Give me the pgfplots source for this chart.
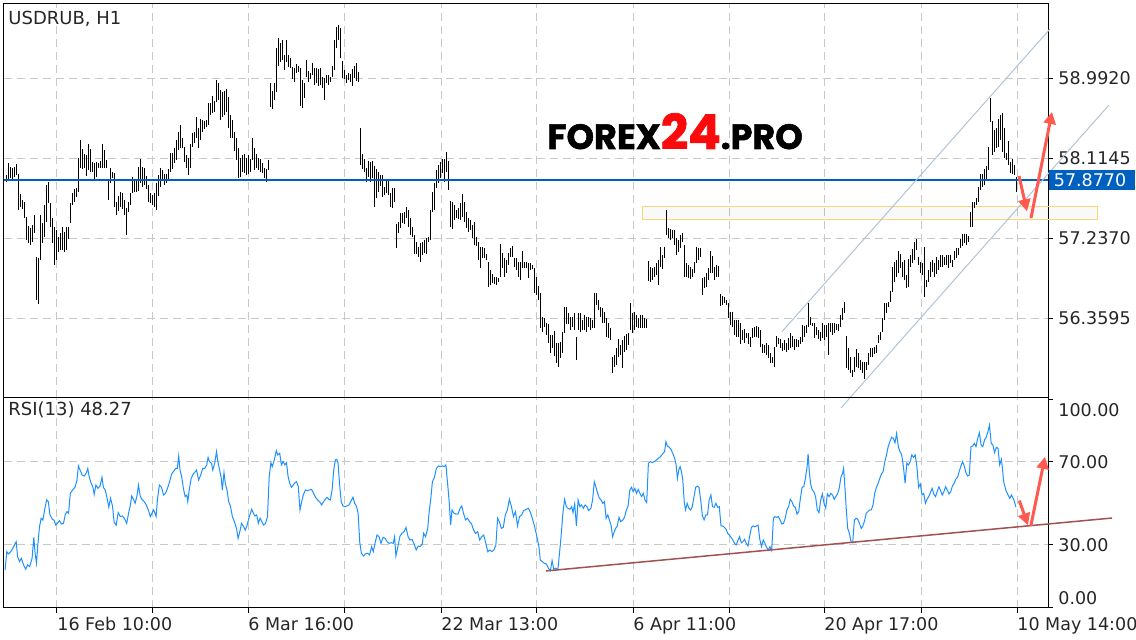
\documentclass[border=0pt]{standalone}
\usepackage{fontspec}
\setmainfont{DejaVu Sans}
\newfontfamily\wmfont{Poppins}[BoldFeatures={FakeBold=1.6}]
\usepackage{pgfplots}
\pgfplotsset{compat=1.18}
\usepackage{pgfplotstable}
\usetikzlibrary{arrows.meta}

\definecolor{mtblue}{RGB}{0,96,192}
\definecolor{rsiblue}{RGB}{30,144,255}
\definecolor{chan}{RGB}{176,196,214}
\definecolor{trend}{RGB}{160,82,80}
\definecolor{arrowred}{RGB}{255,90,80}
\definecolor{zone}{RGB}{248,214,122}
\definecolor{gridc}{RGB}{200,200,200}
\definecolor{wmred}{RGB}{250,10,10}

% H1 bars: x position, high, low
\pgfplotstableread{
x h l
6 57.93 57.85
8 58.06 57.89
10 58.02 57.90
12 58.01 57.88
14 58.02 57.91
16 58.05 57.93
18 57.94 57.54
20 57.72 57.58
22 57.65 57.56
24 57.63 57.46
26 57.47 57.22
28 57.37 57.18
30 57.35 57.16
32 57.38 57.19
34 57.49 57.29
36 57.03 56.56
38 57.02 56.51
40 57.49 57.00
42 57.40 57.18
44 57.60 57.25
46 57.82 57.41
48 57.85 57.62
50 57.62 57.36
52 57.46 57.18
54 57.36 56.94
56 57.33 57.00
58 57.25 57.08
60 57.29 57.11
62 57.36 57.11
64 57.30 57.08
66 57.36 57.11
68 57.36 57.23
70 57.62 57.40
72 57.73 57.60
74 57.78 57.63
76 57.79 57.69
78 58.12 57.74
80 58.31 58.01
82 58.21 57.99
84 58.16 58.01
86 58.15 57.92
88 58.27 57.98
90 58.21 57.96
92 58.07 57.96
94 58.06 57.88
96 58.07 57.91
98 58.06 58.01
100 58.08 58.01
102 58.27 58.01
104 58.20 58.01
106 58.09 58.01
108 57.86 57.65
110 58.00 57.84
112 57.96 57.90
114 57.95 57.58
116 57.63 57.49
118 57.70 57.53
120 57.74 57.58
122 57.73 57.56
124 57.65 57.49
126 57.57 57.27
128 57.63 57.52
130 57.73 57.60
132 57.91 57.73
134 57.86 57.74
136 57.88 57.74
138 58.02 57.75
140 58.11 57.84
142 58.02 57.80
144 58.01 57.82
146 57.92 57.78
148 57.82 57.63
150 57.73 57.62
152 57.71 57.60
154 57.73 57.58
156 57.84 57.54
158 57.93 57.70
160 58.00 57.80
162 57.98 57.88
164 57.94 57.82
166 57.94 57.84
168 57.99 57.88
170 58.17 57.96
172 58.17 58.00
174 58.23 58.06
176 58.31 58.09
178 58.40 58.20
180 58.48 58.23
182 58.33 58.22
184 58.23 58.07
186 58.15 58.01
188 58.11 57.93
190 58.27 58.01
192 58.39 58.23
194 58.40 58.28
196 58.56 58.34
198 58.44 58.23
200 58.54 58.31
202 58.53 58.40
204 58.52 58.43
206 58.53 58.45
208 58.72 58.48
210 58.72 58.59
212 58.80 58.61
214 58.74 58.62
216 58.97 58.73
218 58.94 58.75
220 58.86 58.53
222 58.84 58.56
224 58.85 58.59
226 58.87 58.62
228 58.78 58.44
230 58.59 58.34
232 58.53 58.33
234 58.40 58.19
236 58.33 58.09
238 58.23 57.90
240 58.11 57.91
242 58.15 57.96
244 58.16 57.95
246 58.11 57.93
248 58.15 57.94
250 58.10 57.96
252 58.33 58.09
254 58.23 57.98
256 58.16 58.00
258 58.12 57.98
260 58.11 57.96
262 58.06 57.95
264 58.00 57.90
266 58.00 57.85
268 58.09 57.98
270 58.94 58.67
272 58.85 58.65
274 58.94 58.75
276 59.32 58.84
278 59.43 59.13
280 59.38 59.17
282 59.41 59.19
284 59.24 59.08
286 59.41 59.17
288 59.24 59.11
290 59.21 59.10
292 59.11 58.98
294 59.10 58.95
296 59.15 59.05
298 59.13 59.06
300 59.10 58.68
302 58.97 58.66
304 58.94 58.77
306 59.19 59.00
308 59.07 58.95
310 59.05 58.98
312 59.16 59.03
314 59.10 58.92
316 59.10 58.94
318 59.09 58.90
320 59.10 58.92
322 59.00 58.88
324 58.99 58.75
326 59.03 58.94
328 59.03 58.92
330 59.00 58.95
332 59.13 59.00
334 59.41 59.08
336 59.55 59.32
338 59.57 59.41
340 59.54 59.21
342 59.18 58.99
344 59.08 58.98
346 59.03 58.94
348 59.05 58.97
350 59.04 58.95
352 59.09 58.90
354 59.13 58.99
356 59.16 58.96
358 59.06 58.95
360 58.45 58.04
362 58.16 57.99
364 58.10 57.96
366 58.01 57.85
368 58.08 57.91
370 58.07 57.85
372 58.08 57.90
374 58.03 57.58
376 57.99 57.68
378 57.96 57.74
380 57.93 57.81
382 57.93 57.69
384 57.80 57.71
386 57.88 57.73
388 57.88 57.71
390 57.73 57.58
392 57.79 57.57
394 57.79 57.63
396 57.39 57.13
398 57.41 57.29
400 57.51 57.35
402 57.51 57.40
404 57.52 57.39
406 57.58 57.46
408 57.54 57.36
410 57.46 57.27
412 57.36 57.25
414 57.27 57.06
416 57.19 57.06
418 57.14 57.03
420 57.18 56.97
422 57.19 57.05
424 57.22 57.07
426 57.24 57.06
428 57.25 57.19
430 57.54 57.22
432 57.74 57.52
434 57.84 57.54
436 57.98 57.79
438 58.04 57.84
440 58.07 57.90
442 58.10 57.95
444 58.11 57.85
446 58.18 57.96
448 58.08 57.76
450 57.64 57.36
452 57.63 57.34
454 57.60 57.44
456 57.54 57.46
458 57.57 57.45
460 57.62 57.44
462 57.72 57.47
464 57.63 57.41
466 57.52 57.35
468 57.46 57.30
470 57.44 57.33
472 57.38 57.24
474 57.41 57.16
476 57.25 57.15
478 57.19 57.00
480 57.14 56.91
482 57.14 57.02
484 57.13 57.02
486 57.06 57.00
488 56.98 56.70
490 56.89 56.72
492 56.84 56.74
494 56.81 56.73
496 56.81 56.72
498 56.80 56.75
500 57.17 56.81
502 57.07 56.91
504 57.02 56.81
506 57.00 56.85
508 57.07 56.94
510 57.13 57.03
512 57.15 57.03
514 57.02 56.92
516 57.02 56.89
518 56.97 56.81
520 56.97 56.78
522 57.09 56.91
524 56.98 56.91
526 56.97 56.91
528 56.96 56.80
530 56.96 56.89
532 56.94 56.90
534 56.91 56.63
536 56.81 56.61
538 56.71 56.56
540 56.63 56.25
542 56.37 56.21
544 56.36 56.26
546 56.30 56.17
548 56.30 56.09
550 56.17 55.98
552 56.17 56.03
554 56.22 55.94
556 56.09 55.87
558 56.09 55.82
560 56.10 55.92
562 56.21 55.98
564 56.48 56.20
566 56.48 56.30
568 56.41 56.30
570 56.37 56.23
572 56.37 56.26
574 56.41 56.23
576 56.15 55.90
578 56.41 56.23
580 56.41 56.21
582 56.34 56.23
584 56.39 56.23
586 56.37 56.21
588 56.37 56.26
590 56.36 56.23
592 56.34 56.25
594 56.64 56.25
596 56.64 56.50
598 56.56 56.45
600 56.48 56.37
602 56.47 56.31
604 56.42 56.30
606 56.36 56.15
608 56.30 56.14
610 56.25 56.12
612 55.93 55.76
614 55.95 55.82
616 56.03 55.84
618 56.13 55.93
620 56.06 55.95
622 56.12 55.81
624 56.16 55.99
626 56.18 56.01
628 56.20 56.06
630 56.52 56.23
632 56.41 56.20
634 56.42 56.23
636 56.39 56.26
638 56.36 56.25
640 56.39 56.25
642 56.39 56.25
644 56.36 56.25
646 56.35 56.25
648 56.98 56.76
650 56.92 56.76
652 56.91 56.78
654 56.92 56.81
656 56.96 56.83
658 57.00 56.72
660 57.14 56.92
662 57.05 56.90
664 57.14 57.02
666 57.54 57.27
668 57.35 57.24
670 57.34 57.22
672 57.33 57.24
674 57.33 57.16
676 57.24 57.05
678 57.22 57.08
680 57.27 57.13
682 57.29 57.19
684 57.16 56.81
686 56.96 56.81
688 56.94 56.80
690 56.92 56.79
692 56.90 56.81
694 56.97 56.85
696 57.14 56.96
698 57.13 57.00
700 57.13 57.03
702 56.80 56.61
704 56.81 56.69
706 56.85 56.70
708 56.91 56.78
710 57.09 56.85
712 57.04 56.85
714 56.92 56.78
716 56.94 56.81
718 56.93 56.81
720 56.62 56.49
722 56.60 56.50
724 56.59 56.52
726 56.56 56.50
728 56.53 56.36
730 56.43 56.28
732 56.42 56.26
734 56.34 56.17
736 56.34 56.15
738 56.34 56.15
740 56.31 56.07
742 56.23 56.12
744 56.24 56.09
746 56.20 56.14
748 56.20 56.07
750 56.15 56.04
752 56.25 56.14
754 56.26 56.15
756 56.27 56.15
758 56.26 56.14
760 56.23 56.04
762 56.08 55.98
764 56.06 55.98
766 56.08 55.95
768 56.06 55.92
770 55.98 55.87
772 55.93 55.87
774 56.04 55.82
776 56.16 56.04
778 56.14 56.07
780 56.13 56.03
782 56.09 56.00
784 56.12 56.01
786 56.09 55.99
788 56.14 56.01
790 56.19 56.03
792 56.16 56.04
794 56.13 56.01
796 56.13 56.04
798 56.12 56.04
800 56.15 56.07
802 56.28 56.10
804 56.27 56.15
806 56.28 56.20
808 56.52 56.26
810 56.37 56.28
812 56.31 56.27
814 56.30 56.14
816 56.26 56.17
818 56.23 56.13
820 56.21 56.11
822 56.30 56.14
824 56.28 56.12
826 56.28 56.15
828 56.30 55.95
830 56.30 56.21
832 56.30 56.17
834 56.30 56.20
836 56.30 56.23
838 56.30 56.22
840 56.39 56.26
842 56.47 56.34
844 56.53 56.41
846 56.16 55.81
848 56.03 55.79
850 55.93 55.76
852 55.79 55.71
854 55.93 55.77
856 56.02 55.82
858 55.98 55.81
860 55.90 55.79
862 55.88 55.76
864 55.88 55.69
866 55.88 55.79
868 55.98 55.84
870 56.03 55.93
872 56.03 55.93
874 56.04 55.97
876 56.06 55.98
878 56.17 56.09
880 56.21 56.12
882 56.36 56.21
884 56.52 56.34
886 56.53 56.42
888 56.53 56.48
890 56.66 56.53
892 56.92 56.64
894 56.97 56.75
896 57.00 56.81
898 57.09 56.85
900 57.06 56.91
902 56.97 56.81
904 57.00 56.78
906 56.83 56.69
908 57.01 56.70
910 57.05 56.92
912 57.12 56.96
914 57.19 57.00
916 57.23 57.11
918 57.03 56.94
920 56.97 56.85
922 56.96 56.83
924 57.14 56.59
926 56.78 56.70
928 56.89 56.75
930 56.97 56.81
932 57.00 56.87
934 56.96 56.81
936 57.03 56.84
938 57.00 56.89
940 57.05 56.92
942 57.05 56.92
944 57.03 56.94
946 57.05 56.94
948 57.05 56.91
950 57.05 56.96
952 57.00 56.92
954 57.09 57.00
956 57.13 57.02
958 57.13 57.05
960 57.23 57.13
962 57.28 57.15
964 57.28 57.18
966 57.28 57.16
968 57.26 57.19
970 57.52 57.36
972 57.63 57.36
974 57.63 57.57
976 57.68 57.60
978 57.80 57.63
980 57.94 57.77
982 57.94 57.80
984 57.99 57.82
986 58.03 57.86
988 58.24 57.98
990 58.77 58.51
992 58.52 58.15
994 58.42 58.18
996 58.44 58.22
998 58.54 58.23
1000 58.59 58.31
1002 58.61 58.18
1004 58.44 58.11
1006 58.17 58.09
1008 58.30 58.04
1010 58.07 57.95
1012 58.10 57.94
1014 58.04 57.93
1016 57.91 57.74
}\bars

% RSI(13)
\pgfplotstableread{
x r
5.1 18.0
6.8 26.8
8.4 25.7
10.8 26.8
12.8 28.4
15.2 30.8
16.2 31.6
17.6 24.4
19.6 22.0
21.3 23.6
23.6 20.4
25.7 18.3
27.7 20.4
29.7 19.6
32.1 23.6
33.8 33.7
35.1 26.0
36.5 21.2
37.8 30.0
39.5 38.8
41.2 42.9
42.9 42.0
44.9 47.7
46.6 51.7
48.3 50.9
50.0 44.5
52.4 42.4
54.0 42.0
55.7 39.6
57.4 40.4
59.5 41.7
61.5 40.1
63.5 40.4
65.2 44.5
66.9 46.1
68.6 45.3
70.3 54.9
72.6 56.5
75.0 57.8
77.0 61.3
78.4 68.1
80.4 65.8
82.1 63.7
84.5 63.3
86.5 64.9
87.8 66.9
89.2 62.9
91.2 59.7
92.9 57.8
94.2 54.4
95.9 58.9
98.0 57.3
100.0 58.4
102.0 62.6
103.4 57.8
105.4 56.2
107.4 51.7
108.8 48.2
110.5 52.5
112.5 48.8
114.2 40.8
116.2 39.6
118.2 45.6
120.3 43.7
122.3 44.0
124.3 42.9
126.7 40.4
128.4 44.9
130.4 49.3
131.7 53.6
133.8 51.7
135.1 50.1
136.8 53.3
138.5 58.9
140.2 53.6
141.9 52.0
144.2 50.9
146.3 49.3
148.3 46.9
150.3 43.7
152.0 45.3
153.7 46.9
156.1 43.7
157.4 51.7
159.4 58.9
161.5 57.8
163.5 54.1
165.5 54.9
167.5 57.3
169.6 60.5
171.6 64.2
174.0 65.8
175.7 66.9
177.3 66.9
178.7 72.9
180.0 66.1
181.7 62.9
183.4 57.3
185.1 53.3
186.8 54.1
187.8 50.9
189.2 56.5
191.2 62.1
193.2 64.2
195.2 65.3
196.6 66.1
198.6 61.3
200.7 63.7
202.7 66.9
204.7 66.9
206.7 68.6
208.1 72.2
209.4 70.2
211.5 69.4
212.8 66.1
214.8 69.7
216.5 75.0
217.9 70.2
219.6 66.1
221.3 62.1
222.3 56.5
224.0 64.9
225.3 59.7
227.0 56.5
228.7 50.9
230.4 48.8
232.4 43.7
234.4 41.3
236.5 38.0
238.1 33.2
239.8 36.4
241.5 40.4
243.2 39.2
245.2 37.2
246.9 39.2
249.3 43.7
251.7 47.2
253.4 45.3
255.0 44.0
256.7 44.5
258.4 40.4
260.1 42.9
261.8 41.3
263.5 39.6
265.5 40.4
267.5 43.7
269.2 62.9
270.9 69.7
272.3 67.8
274.3 71.0
276.3 75.5
277.7 73.4
279.7 74.2
281.4 68.6
283.1 70.2
284.8 68.6
286.5 69.7
288.1 62.9
289.8 59.7
291.5 57.8
293.2 58.9
294.9 60.0
296.6 60.5
298.3 58.1
300.0 46.9
301.7 50.9
303.3 54.1
305.4 56.5
307.4 56.2
309.4 56.5
311.5 56.8
313.5 54.9
315.5 53.0
317.5 51.7
319.6 50.9
321.6 49.3
323.6 50.9
325.3 52.0
327.0 53.0
329.0 52.0
330.4 51.7
332.1 56.5
333.7 66.1
335.4 71.0
336.8 71.3
338.1 69.4
339.5 59.7
341.2 50.9
342.9 48.8
344.6 48.5
346.9 48.8
348.9 49.3
351.3 51.4
353.0 53.0
354.7 50.1
356.4 48.8
358.1 45.3
359.8 31.1
361.4 26.0
363.5 24.7
365.5 25.7
367.5 26.0
369.6 25.2
371.6 29.2
373.3 26.8
375.0 30.8
377.0 34.8
379.0 34.0
381.0 30.8
383.1 33.7
385.1 33.2
387.1 31.6
389.1 30.8
391.2 31.1
393.2 30.8
394.6 34.0
395.9 24.7
397.9 29.2
400.0 34.3
402.0 35.6
404.0 36.4
406.0 38.5
408.1 34.0
410.1 32.4
412.1 32.7
414.1 30.5
416.2 27.6
418.2 29.5
420.2 29.2
422.3 30.5
423.6 35.6
425.6 34.0
427.7 38.0
429.0 45.3
431.0 53.3
432.4 60.5
434.4 62.6
436.4 66.9
438.5 68.1
440.5 67.8
442.5 68.1
444.5 67.8
445.9 68.6
447.9 58.1
449.3 50.1
450.6 39.6
452.0 46.9
454.0 45.3
456.0 44.9
458.0 44.9
460.1 47.7
461.8 48.8
463.5 45.3
465.5 42.1
467.5 42.9
469.5 41.3
471.6 40.1
473.6 37.2
475.6 35.6
477.7 36.4
479.7 32.4
481.7 34.0
483.7 34.8
485.8 30.8
487.8 26.8
489.8 27.6
491.8 26.8
493.9 27.6
495.9 30.0
497.6 42.9
499.3 41.3
501.3 38.0
503.3 38.5
505.3 44.5
507.4 46.9
509.4 52.0
511.4 48.5
513.5 43.7
515.5 46.1
517.5 39.2
519.5 43.7
521.7 44.5
523.4 46.4
526.1 47.2
528.4 47.7
530.1 46.1
531.8 43.7
534.2 39.6
536.2 35.6
537.6 32.4
538.9 29.2
540.3 22.8
542.3 22.0
544.3 21.2
546.3 20.9
548.4 18.8
550.4 17.6
552.1 22.5
553.8 18.3
555.8 18.8
557.8 18.0
559.5 26.0
561.2 34.8
562.9 45.3
564.6 52.0
566.3 48.5
568.0 47.7
570.0 47.2
571.7 48.5
573.0 45.6
574.7 49.8
576.4 39.2
578.1 51.7
579.8 48.5
581.5 49.3
583.5 47.7
585.2 49.3
586.9 48.5
588.6 46.6
590.9 47.7
592.6 51.7
594.3 60.5
596.0 57.8
597.7 54.9
599.4 52.5
601.1 51.7
602.8 50.1
604.5 50.9
606.1 42.9
607.8 44.5
609.9 41.3
611.2 39.2
612.6 34.0
613.9 35.9
615.6 38.0
617.3 39.2
619.0 43.3
620.7 41.3
623.0 42.1
624.7 43.7
626.4 46.9
628.1 48.8
629.8 56.5
631.5 57.8
633.2 55.7
634.9 57.3
636.5 54.9
638.2 56.8
639.9 54.9
641.6 53.3
643.3 54.9
645.0 51.7
646.7 50.4
648.4 69.4
650.4 70.2
652.4 69.7
654.4 70.2
656.5 71.0
658.5 71.8
660.5 72.6
662.6 73.9
664.6 75.0
665.9 79.8
667.3 77.7
669.3 77.1
671.3 75.8
673.4 73.4
674.7 71.8
676.1 68.6
677.4 62.1
678.8 66.1
680.1 67.8
681.5 65.3
682.8 61.3
684.2 50.9
685.5 46.9
687.2 50.1
688.9 47.7
690.6 46.9
692.3 48.5
694.0 53.3
695.7 57.8
697.3 58.4
699.0 57.8
700.7 51.7
702.4 44.0
704.1 42.1
705.8 44.5
707.5 44.5
709.2 51.7
710.9 54.1
712.5 48.5
714.2 48.2
715.9 50.1
717.6 48.2
719.3 48.5
721.0 39.2
722.7 39.2
724.4 38.5
726.1 37.6
727.7 35.6
729.4 34.8
731.1 33.7
732.8 32.4
734.5 30.8
736.2 30.0
737.9 32.1
739.6 34.0
741.3 31.1
742.9 31.6
744.6 32.7
746.3 30.8
748.0 29.5
749.7 34.3
751.4 38.5
753.1 39.2
754.8 38.8
756.5 39.2
758.1 39.6
759.8 32.7
761.5 29.2
763.2 32.4
764.9 30.8
766.6 28.9
768.3 27.6
770.0 29.2
771.7 27.3
773.4 42.9
775.0 43.7
776.7 43.3
778.4 43.7
780.1 42.1
781.8 40.1
783.5 40.4
785.2 42.9
786.9 46.9
788.6 48.5
790.2 52.0
791.9 50.9
793.6 48.8
795.3 48.2
797.0 44.9
798.7 46.1
800.4 52.5
802.1 57.8
803.8 58.1
805.4 62.1
807.1 67.8
808.1 73.9
809.2 66.1
810.5 59.7
812.2 56.5
813.9 55.7
815.6 53.3
817.3 46.9
819.0 45.6
820.6 51.4
822.3 54.6
824.0 50.1
825.7 47.7
827.4 54.6
829.1 53.3
830.8 54.9
832.5 54.1
834.2 52.0
835.8 53.3
837.5 54.6
839.2 57.3
840.9 62.6
842.6 64.5
843.6 66.9
845.0 57.3
846.3 46.9
847.7 38.0
849.4 35.6
851.0 31.6
852.7 31.1
854.4 42.1
856.1 42.9
857.8 42.4
859.5 40.4
861.2 38.0
862.9 39.2
864.6 41.7
866.2 45.3
867.9 46.1
869.6 46.9
871.3 46.9
873.0 49.3
874.7 54.9
876.4 57.8
878.1 59.7
879.8 62.1
881.4 64.2
883.1 65.3
884.8 70.2
886.5 73.4
888.2 77.4
889.9 79.8
891.6 81.9
893.3 81.4
895.0 79.3
896.6 83.8
898.3 77.4
900.0 75.0
901.7 73.4
903.4 67.8
905.1 59.7
906.8 69.4
908.5 68.6
910.2 70.2
911.8 73.4
913.5 72.2
915.2 73.4
916.9 67.8
918.6 57.8
920.3 59.4
922.0 54.1
923.7 54.9
925.4 50.1
927.0 52.0
928.7 53.3
930.4 55.2
932.1 57.3
933.8 54.6
935.5 53.3
937.2 55.7
938.9 58.1
940.6 56.2
942.2 54.1
943.9 55.7
945.6 58.1
947.3 56.5
949.0 54.6
950.7 55.7
952.4 58.4
954.1 59.7
955.8 61.7
957.5 62.6
959.1 65.3
960.8 67.8
962.5 70.2
964.2 68.1
965.9 64.9
967.6 63.3
969.3 63.7
971.0 77.4
972.7 77.7
974.3 79.0
976.0 77.4
977.7 81.4
979.4 84.1
981.1 78.2
982.8 77.4
984.5 80.6
986.2 81.9
987.9 84.6
989.5 87.8
991.2 79.0
992.9 78.2
994.6 74.5
996.3 77.1
998.0 76.6
999.7 68.6
1001.4 71.3
1002.4 66.9
1003.7 60.5
1005.8 56.5
1008.1 54.1
1009.8 52.5
1011.5 54.1
1013.9 51.7
1015.9 48.27
}\rsi

\begin{document}
\begin{tikzpicture}
\path[use as bounding box] (0,0) rectangle (568pt,-320pt);
\pgfplotsset{
  every axis/.append style={
    scale only axis, width=522pt,
    xmin=4, xmax=1048,
    xtick={57,152,248,344,441,536,633,729,824,921,1017},
    grid=major,
    grid style={gridc, line width=0.5pt, dash pattern=on 4pt off 2.5pt},
    axis line style={black, line width=0.5pt},
    tick style={black, line width=0.5pt},
    tick align=outside, major tick length=2.5pt,
    ytick pos=right, yticklabel pos=right,
    ticklabel style={font=\fontsize{8.75}{10}\selectfont, text=black!85},
    yticklabel style={anchor=west, inner xsep=0pt, xshift=2.5pt},
    clip=false,
  },
}
% price panel
\begin{axis}[
  at={(2pt,-2pt)}, anchor=north west, height=197pt,
  ymin=55.482, ymax=59.804,
  xticklabels={}, xtick style={draw=none},
  ytick={56.3595,57.237,58.1145,58.992},
  yticklabels={56.3595,57.2370,58.1145,58.9920},
]
\addplot[zone, line width=0.5pt, fill=black, fill opacity=0.025]
  coordinates {(642,57.578) (1097,57.578) (1097,57.435) (642,57.435) (642,57.578)};
\addplot[draw=none, mark=none,
  error bars/.cd, y dir=both, y explicit, error mark=none,
  error bar style={draw=black, line width=0.45pt}]
  table[x=x, y expr={(\thisrow{h}+\thisrow{l})/2},
        y error expr={(\thisrow{h}-\thisrow{l})/2}] {\bars};
\addplot[draw=mtblue, line width=0.9pt] coordinates {(4,57.877) (1048,57.877)};
\addplot[chan, line width=0.5pt] coordinates {(782,56.21) (1050,59.53)};
\addplot[chan, line width=0.5pt] coordinates {(841,55.373) (1109,58.696)};
\addplot[arrowred, line width=1.5pt, -{Triangle[length=6pt,width=6pt]}]
  coordinates {(1019,57.917) (1027,57.53)};
\addplot[arrowred, line width=1.5pt, -{Triangle[length=6pt,width=6pt]}]
  coordinates {(1031,57.457) (1052,58.62)};
\node[fill=mtblue, text=white, anchor=west, inner xsep=2.5pt, inner ysep=0pt,
  minimum height=10pt, text width=38pt, font=\fontsize{8.75}{10}\selectfont]
  at (axis cs:1048.5,57.877) {57.8770};
\end{axis}
% RSI panel
\begin{axis}[
  at={(2pt,-199pt)}, anchor=north west, height=105pt,
  ymin=-0.36, ymax=100.84,
  xtick pos=bottom,
  xticklabels={16 Feb 10:00,,6 Mar 16:00,,22 Mar 13:00,,6 Apr 11:00,,20 Apr 17:00,,10 May 14:00},
  xticklabel style={anchor=north west, inner xsep=0pt, yshift=1.5pt},
  ytick={30,70}, yticklabels={30.00,70.00},
  extra y ticks={0,100}, extra y tick labels={},
  extra y tick style={grid=none},
]
\addplot[rsiblue, line width=0.5pt] table[x=x, y=r] {\rsi};
\addplot[trend, line width=0.75pt] coordinates {(546,17.5) (1112,43.0)};
\addplot[arrowred, line width=1.5pt, -{Triangle[length=6pt,width=6pt]}]
  coordinates {(1019.3,51.4) (1028,39.5)};
\addplot[arrowred, line width=1.5pt, -{Triangle[length=6pt,width=6pt]}]
  coordinates {(1030.8,39.2) (1045,72.5)};
\node[anchor=west, inner sep=0pt, font=\fontsize{8.75}{10}\selectfont, text=black!85]
  at (axis cs:1048,100) [xshift=5pt, yshift=-5pt] {100.00};
\node[anchor=west, inner sep=0pt, font=\fontsize{8.75}{10}\selectfont, text=black!85]
  at (axis cs:1048,0) [xshift=5pt, yshift=4.5pt] {0.00};
\end{axis}
% titles and watermark, in pixel units of the picture
\begin{scope}[x=0.5pt, y=-0.5pt]
\node[anchor=west, inner sep=0pt, font=\fontsize{9}{10}\selectfont, text=black!85] at (8,19) {USDRUB, H1};
\node[anchor=west, inner sep=0pt, font=\fontsize{9}{10}\selectfont, text=black!85] at (8,410) {RSI(13) 48.27};
\node[anchor=base west, inner sep=0pt] at (547,149)
  {\wmfont\bfseries\fontsize{17.5}{20}\selectfont FOREX{\color{wmred}\fontsize{24}{25}\selectfont 24}.PRO};
\end{scope}
\end{tikzpicture}
\end{document}
